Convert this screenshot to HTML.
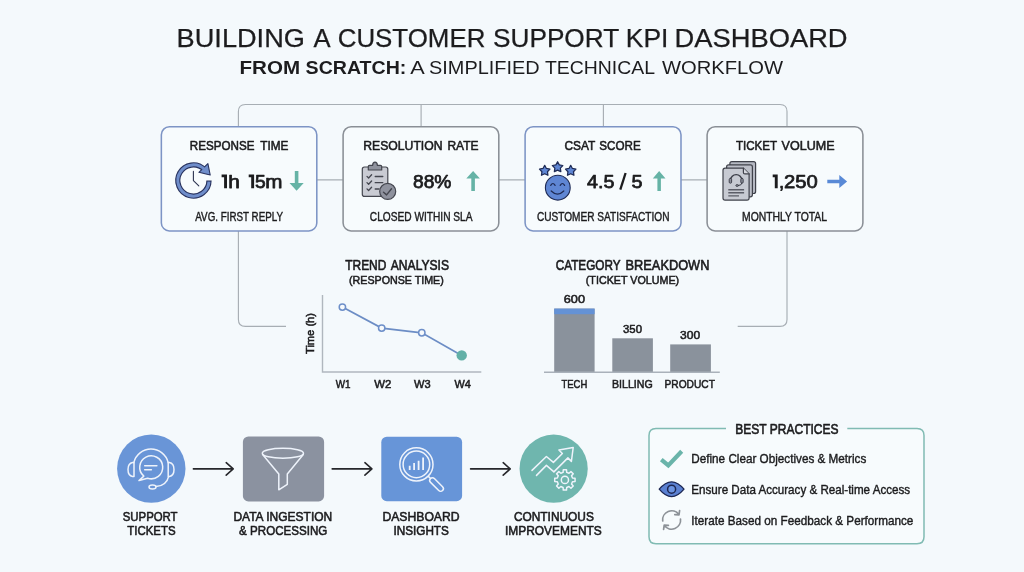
<!DOCTYPE html>
<html>
<head>
<meta charset="utf-8">
<title>Building a Customer Support KPI Dashboard</title>
<style>
html,body{margin:0;padding:0;background:#f4f9fc;}
body{width:1024px;height:572px;overflow:hidden;font-family:"Liberation Sans",sans-serif;}
svg{display:block;will-change:transform;}
text{font-family:"Liberation Sans",sans-serif;fill:#1c1c1e;}
.b{font-weight:bold;}
.sb{stroke:#1c1c1e;stroke-width:0.6px;stroke-linejoin:round;}
.m{stroke:#1c1c1e;stroke-width:0.4px;}
.t{stroke:#1c1c1e;stroke-width:0.25px;}
.conn{fill:none;stroke:#a7aeb4;stroke-width:1.15;}
.wi{fill:none;stroke:#eef3fb;stroke-width:1.5;stroke-linecap:round;stroke-linejoin:round;}
</style>
</head>
<body>
<svg width="1024" height="572" viewBox="0 0 1024 572">
<rect x="0" y="0" width="1024" height="572" fill="#f4f9fc"/>

<!-- TITLE -->
<g font-size="24.9" class="t">
<text x="176.6" y="46.8" textLength="128.3" lengthAdjust="spacingAndGlyphs">BUILDING</text>
<text x="313.5" y="46.8" textLength="17.1" lengthAdjust="spacingAndGlyphs">A</text>
<text x="337.7" y="46.8" textLength="147.7" lengthAdjust="spacingAndGlyphs">CUSTOMER</text>
<text x="493.0" y="46.8" textLength="126.2" lengthAdjust="spacingAndGlyphs">SUPPORT</text>
<text x="625.8" y="46.8" textLength="42.6" lengthAdjust="spacingAndGlyphs">KPI</text>
<text x="674.5" y="46.8" textLength="173.1" lengthAdjust="spacingAndGlyphs">DASHBOARD</text>
</g>
<g font-size="19.2">
<text class="b" x="239.5" y="73.9" textLength="60.6" lengthAdjust="spacingAndGlyphs">FROM</text>
<text class="b" x="305.6" y="73.9" textLength="100.8" lengthAdjust="spacingAndGlyphs">SCRATCH:</text>
<text x="410.2" y="73.9" textLength="14.5" lengthAdjust="spacingAndGlyphs">A</text>
<text x="429.0" y="73.9" textLength="110.6" lengthAdjust="spacingAndGlyphs">SIMPLIFIED</text>
<text x="544.9" y="73.9" textLength="110.1" lengthAdjust="spacingAndGlyphs">TECHNICAL</text>
<text x="662.0" y="73.9" textLength="121.1" lengthAdjust="spacingAndGlyphs">WORKFLOW</text>
</g>

<!-- CONNECTORS -->
<path class="conn" d="M238.4 127 V111.5 Q238.4 104.5 245.4 104.5 H780 Q787 104.5 787 111.5 V127"/>
<path class="conn" d="M421.1 104.5 V127 M603.4 104.5 V127"/>
<path class="conn" d="M317 179.9 H343 M499 179.9 H525 M681 179.9 H707"/>
<path class="conn" d="M238.4 231 V319.4 Q238.4 326.4 245.4 326.4 H286"/>
<path class="conn" d="M787 231 V319.4 Q787 326.4 780 326.4 H737.7"/>

<!-- KPI BOXES -->
<g fill="#f7fbfd" stroke-width="1.55">
<rect x="161.35" y="126.8" width="155.45" height="104.1" rx="8" stroke="#7d94c5"/>
<rect x="343.1" y="126.8" width="155.7" height="104.1" rx="8" stroke="#8a8f96"/>
<rect x="525.1" y="126.8" width="155.9" height="104.1" rx="8" stroke="#7d94c5"/>
<rect x="707.1" y="126.8" width="155.8" height="104.1" rx="8" stroke="#8a8f96"/>
</g>

<!-- KPI headings -->
<g font-size="13.5" class="sb">
<text x="189.8" y="149.6" textLength="64.6" lengthAdjust="spacingAndGlyphs">RESPONSE</text>
<text x="260.2" y="149.6" textLength="28.2" lengthAdjust="spacingAndGlyphs">TIME</text>
<text x="363.2" y="149.6" textLength="79.4" lengthAdjust="spacingAndGlyphs">RESOLUTION</text>
<text x="447.4" y="149.6" textLength="31.2" lengthAdjust="spacingAndGlyphs">RATE</text>
<text x="564.5" y="149.6" textLength="30.9" lengthAdjust="spacingAndGlyphs">CSAT</text>
<text x="599.3" y="149.6" textLength="41.5" lengthAdjust="spacingAndGlyphs">SCORE</text>
<text x="735.9" y="149.6" textLength="41.3" lengthAdjust="spacingAndGlyphs">TICKET</text>
<text x="781.6" y="149.6" textLength="53.0" lengthAdjust="spacingAndGlyphs">VOLUME</text>
</g>

<!-- KPI values -->
<g font-size="18.6" style="stroke:#1c1c1e;stroke-width:0.75px;stroke-linejoin:round">
<path d="M221.6 174.6 h5.4 v13.6 h-2.9 v-11.0 h-2.5 z" fill="#1c1c1e" stroke="none"/>
<text x="228.3" y="188.2" textLength="11.6" lengthAdjust="spacingAndGlyphs">h</text>
<path d="M248.7 174.6 h5.4 v13.6 h-2.9 v-11.0 h-2.5 z" fill="#1c1c1e" stroke="none"/>
<text x="255" y="188.2" textLength="10.7" lengthAdjust="spacingAndGlyphs">5</text>
<text x="265.3" y="188.2" textLength="17.2" lengthAdjust="spacingAndGlyphs">m</text>
<text x="413" y="188.2" textLength="38.4" lengthAdjust="spacingAndGlyphs">88%</text>
<text x="587" y="188.2" textLength="27.4" lengthAdjust="spacingAndGlyphs">4.5</text>
<path d="M620.3 189.6 L625.6 173" stroke-width="2.3" stroke-linecap="butt" fill="none"/>
<text x="631.5" y="188.2" textLength="11" lengthAdjust="spacingAndGlyphs">5</text>
<path d="M772.7 174.6 h5.0 v13.6 h-2.9 v-11.0 h-2.1 z" fill="#1c1c1e" stroke="none"/>
<text x="778.9" y="188.2">,</text>
<text x="784.1" y="188.2" textLength="33.8" lengthAdjust="spacingAndGlyphs">250</text>
</g>

<!-- KPI sublabels -->
<g font-size="11.9" class="m">
<text x="195.3" y="220.5" textLength="87.7" lengthAdjust="spacingAndGlyphs">AVG. FIRST REPLY</text>
<text x="369.8" y="220.5" textLength="102.7" lengthAdjust="spacingAndGlyphs">CLOSED WITHIN SLA</text>
<text x="536.9" y="220.5" textLength="132.6" lengthAdjust="spacingAndGlyphs">CUSTOMER SATISFACTION</text>
<text x="742.0" y="220.5" textLength="85.0" lengthAdjust="spacingAndGlyphs">MONTHLY TOTAL</text>
</g>

<!-- trend arrows -->
<g fill="#66b3a6">
<path d="M294.8 170.9 h3.6 v12 h5.3 l-7.1 7.8 l-7.1 -7.8 h5.3 z"/>
<path d="M471.3 191 h3.6 v-12.4 h5 l-6.8 -7.7 l-6.8 7.7 h5 z"/>
<path d="M657.4 191 h3.5 v-12.4 h4.6 l-6.35 -7.7 l-6.35 7.7 h4.6 z"/>
</g>
<path fill="#5989d6" d="M827.3 179.7 h12 v-4.7 l7.8 6.5 l-7.8 6.5 v-4.7 h-12 z"/>

<!-- clock icon -->
<g>
<path d="M209 180.6 A15.6 15.6 0 1 1 204.2 169.2" fill="none" stroke="#29335f" stroke-width="5.3"/>
<path d="M207.9 163.6 L210.2 175 L198.9 172.3 Z" fill="#6f8dca" stroke="#29335f" stroke-width="1.1" stroke-linejoin="round"/>
<path d="M209 181.6 A15.6 15.6 0 1 1 205 170" fill="none" stroke="#6f8dca" stroke-width="3.0"/>
<path d="M193.4 171.4 V180.6 L198.8 185.8" fill="none" stroke="#2c3350" stroke-width="1.1" stroke-linecap="round" stroke-linejoin="round"/>
</g>
<!-- clipboard icon -->
<g stroke="#44464f" stroke-width="1.2" stroke-linejoin="round" stroke-linecap="round">
<rect x="362.3" y="167" width="25.5" height="29.4" rx="2.2" fill="#c9cbd3"/>
<path d="M368.3 170 V166.6 Q368.3 165.4 369.5 165.4 H372.6 Q372.8 162.2 375 162.2 Q377.2 162.2 377.4 165.4 H380.5 Q381.7 165.4 381.7 166.6 V170 Z" fill="#8f929d"/>
<g fill="none" stroke-width="1.3">
<path d="M367 176.4 L368.6 178 L371.6 174.8 M375.2 176.5 H382.8"/>
<path d="M367 182.6 L368.6 184.2 L371.6 181 M375.2 182.7 H382.8"/>
<path d="M367 188.9 L368.6 190.5 L371.6 187.3 M375.2 189 H379"/>
</g>
<circle cx="387.7" cy="191.4" r="8" fill="#8f929e"/>
<path d="M383.5 192.2 L386.6 194.9 L391.5 188.7" fill="none" stroke-width="1.4"/>
</g>
<!-- csat icon -->
<g fill="#5f86d4" stroke="#1f2b55" stroke-width="1.1" stroke-linejoin="round" stroke-linecap="round">
<circle cx="557.8" cy="187.7" r="12.4"/>
<polygon points="544.70,165.30 546.40,168.45 549.93,169.10 547.46,171.70 547.93,175.25 544.70,173.70 541.47,175.25 541.94,171.70 539.47,169.10 543.00,168.45" stroke-width="1.25"/>
<polygon points="557.60,161.70 559.30,164.85 562.83,165.50 560.36,168.10 560.83,171.65 557.60,170.10 554.37,171.65 554.84,168.10 552.37,165.50 555.90,164.85" stroke-width="1.25"/>
<polygon points="570.70,165.30 572.40,168.45 575.93,169.10 573.46,171.70 573.93,175.25 570.70,173.70 567.47,175.25 567.94,171.70 565.47,169.10 569.00,168.45" stroke-width="1.25"/>
<path d="M550.7 185.4 Q552.9 181.6 555.1 185.4 M560.2 185.4 Q562.4 181.6 564.6 185.4 M551.2 191 Q557.5 197.2 563.8 191" fill="none" stroke-width="1.2"/>
</g>
<!-- docs icon -->
<g stroke="#3f414a" stroke-width="1.2" stroke-linejoin="round" stroke-linecap="round">
<rect x="729.9" y="161.6" width="25.7" height="31.9" rx="2" fill="#b5b8c2"/>
<rect x="726.6" y="164.9" width="25.8" height="31.9" rx="2" fill="#bcbfc8"/>
<path d="M725.1 168.2 H743.4 L749.1 173.9 V198 Q749.1 200.1 747 200.1 H725.1 Q723 200.1 723 198 V170.3 Q723 168.2 725.1 168.2 Z" fill="#c7cad2"/>
<path d="M743.4 168.2 V172.4 Q743.4 173.9 744.9 173.9 H749.1" fill="#d8dae0"/>
<g fill="none" stroke="#3a3c46">
<path d="M730.6 181.2 V180.2 A5.6 5.6 0 0 1 741.8 180.2 V181.2" stroke-width="1.4"/>
<rect x="729.2" y="178.4" width="2.4" height="4.8" rx="1.1" fill="#8d909b" stroke-width="0.9"/>
<rect x="740.8" y="178.4" width="2.4" height="4.8" rx="1.1" fill="#8d909b" stroke-width="0.9"/>
<path d="M741.9 183.2 Q741.6 185.6 738.4 185.5" stroke-width="1"/>
<ellipse cx="737.2" cy="185.5" rx="1.4" ry="0.9" fill="#8d909b" stroke-width="0.9"/>
</g>
<path d="M728.3 189.7 H744.1 M728.3 192.8 H744.1 M728.3 195.9 H739" fill="none" stroke="#5b5d67" stroke-width="1.4" stroke-linecap="butt"/>
</g>


<!-- TREND CHART -->
<g font-size="13.8" class="sb">
<text x="345.2" y="270" textLength="41.2" lengthAdjust="spacingAndGlyphs">TREND</text>
<text x="390.8" y="270" textLength="58.2" lengthAdjust="spacingAndGlyphs">ANALYSIS</text>
<text x="555.7" y="270" textLength="64.9" lengthAdjust="spacingAndGlyphs">CATEGORY</text>
<text x="625.6" y="270" textLength="83.8" lengthAdjust="spacingAndGlyphs">BREAKDOWN</text>
</g>
<g font-size="11.8" class="m" style="stroke-width:0.55px">
<text x="349.0" y="283.5" textLength="94.8" lengthAdjust="spacingAndGlyphs">(RESPONSE TIME)</text>
<text x="585.8" y="283.5" textLength="93.3" lengthAdjust="spacingAndGlyphs">(TICKET VOLUME)</text>
<text x="335.7" y="388.2" textLength="14.8" lengthAdjust="spacingAndGlyphs">W1</text>
<text x="374.2" y="388.2" textLength="17.1" lengthAdjust="spacingAndGlyphs">W2</text>
<text x="414.0" y="388.2" textLength="16.6" lengthAdjust="spacingAndGlyphs">W3</text>
<text x="454.4" y="388.2" textLength="16.3" lengthAdjust="spacingAndGlyphs">W4</text>
<text x="561.5" y="388.2" textLength="25.8" lengthAdjust="spacingAndGlyphs">TECH</text>
<text x="612.0" y="388.2" textLength="40.7" lengthAdjust="spacingAndGlyphs">BILLING</text>
<text x="664.5" y="388.2" textLength="50.4" lengthAdjust="spacingAndGlyphs">PRODUCT</text>
<text x="563.8" y="303.4" textLength="21.2" lengthAdjust="spacingAndGlyphs">600</text>
<text x="623.0" y="332.8" textLength="19.0" lengthAdjust="spacingAndGlyphs">350</text>
<text x="680.1" y="338.8" textLength="20.1" lengthAdjust="spacingAndGlyphs">300</text>
<text transform="translate(314.3 354) rotate(-90)" x="0" y="0" textLength="41" lengthAdjust="spacingAndGlyphs">Time (h)</text>
</g>
<path d="M322.5 295 V372 H481.3" fill="none" stroke="#b0b7be" stroke-width="1.4"/>
<path d="M342.4 307.1 L381.7 328.1 L421.8 332.8 L461.7 355.4" fill="none" stroke="#6c8dc5" stroke-width="1.7"/>
<g fill="#f7fafc" stroke="#6d8fc9" stroke-width="1.5">
<circle cx="342.4" cy="307.1" r="3.2"/>
<circle cx="381.7" cy="328.1" r="3.2"/>
<circle cx="421.8" cy="332.8" r="3.2"/>
</g>
<circle cx="461.7" cy="355.4" r="5.2" fill="#62b0a7"/>

<!-- BAR CHART -->
<rect x="554.2" y="308.6" width="40.4" height="64" fill="#8a929c"/>
<rect x="554.2" y="308.6" width="40.4" height="5.6" fill="#6492d6"/>
<rect x="612.3" y="338.3" width="40.6" height="34.3" fill="#8a929c"/>
<rect x="670.2" y="344.4" width="40.7" height="28.2" fill="#8a929c"/>
<path d="M544 372.2 H719.8" stroke="#a9b1ba" stroke-width="1.5" fill="none"/>

<!-- WORKFLOW -->
<circle cx="151.3" cy="468.65" r="34.2" fill="#6995d7"/>
<rect x="242.9" y="436.5" width="81.2" height="64.9" rx="5.5" fill="#8b92a0"/>
<rect x="381.3" y="436.7" width="80.8" height="64.5" rx="5.5" fill="#6795d8"/>
<circle cx="553.65" cy="468.65" r="34.1" fill="#6fb6ae"/>
<g fill="none" stroke="#26272b" stroke-width="1.6" stroke-linecap="round" stroke-linejoin="round">
<path d="M193.4 468.9 H233 M226.2 462.7 L233.2 468.9 L226.2 475.1"/>
<path d="M332.2 468.9 H371.7 M364.9 462.7 L371.9 468.9 L364.9 475.1"/>
<path d="M470.6 468.9 H510 M503.2 462.7 L510.2 468.9 L503.2 475.1"/>
</g>
<g font-size="13.3" class="sb">
<text x="122.7" y="520.8" textLength="54.9" lengthAdjust="spacingAndGlyphs">SUPPORT</text>
<text x="127.2" y="535" textLength="48.5" lengthAdjust="spacingAndGlyphs">TICKETS</text>
<text x="233.4" y="520.8" textLength="98.9" lengthAdjust="spacingAndGlyphs">DATA INGESTION</text>
<text x="239.1" y="535" textLength="88.3" lengthAdjust="spacingAndGlyphs">&amp; PROCESSING</text>
<text x="382.4" y="520.8" textLength="77.2" lengthAdjust="spacingAndGlyphs">DASHBOARD</text>
<text x="393.4" y="535" textLength="55.5" lengthAdjust="spacingAndGlyphs">INSIGHTS</text>
<text x="513.9" y="520.8" textLength="80.0" lengthAdjust="spacingAndGlyphs">CONTINUOUS</text>
<text x="505.0" y="535" textLength="96.8" lengthAdjust="spacingAndGlyphs">IMPROVEMENTS</text>
</g>


<!-- support headset icon -->
<g class="wi">
<path d="M133.8 462.6 A17.7 17.7 0 0 1 168.2 462.6"/>
<path d="M134 462.4 H132.6 Q128 463.2 128 469.4 Q128 475.6 132.6 476.4 H134 Z"/>
<path d="M168.2 462.4 H169.4 Q174 463.2 174 469.4 Q174 475.6 169.4 476.4 H168.2 Z"/>
<path d="M168.6 476.6 Q166.5 485.6 156 486.6"/>
<ellipse cx="152.5" cy="486.9" rx="3.5" ry="2"/>
<path d="M143.8 476.1 A11.5 11.5 0 1 1 147.65 478.24 L139 480.5 Z"/>
<path d="M144.7 465.7 H156.9 M144.7 469.7 H151.4" stroke-width="1.5"/>
</g>
<!-- funnel icon -->
<g class="wi" stroke="#eef1f4">
<ellipse cx="282.9" cy="453.2" rx="20.6" ry="5"/>
<path d="M262.6 454.6 L278.8 474 V489.8 L287.3 484.4 V474 L303.3 454.6"/>
</g>
<!-- magnifier icon -->
<g class="wi">
<circle cx="416.4" cy="464.4" r="16.6"/>
<circle cx="416.4" cy="464.4" r="13.3"/>
<path d="M409.7 469.9 V465.7 M414.1 469.9 V463.1 M418.6 469.9 V460.7 M423.1 469.9 V457.4" stroke-width="1.8" stroke-linecap="butt"/>
<g transform="translate(416.4 464.4) rotate(45)">
<path d="M17.3 0 H20"/>
<rect x="20" y="-2.7" width="17" height="5.4" rx="2.7"/>
</g>
</g>
<!-- growth icon -->
<g class="wi" stroke="#eef6f5">
<path d="M532 470.4 L546.4 456.5 L553.4 462.4 L562.4 453.5 L558.9 450 L573.2 447.5 L571.4 461.4 L567.9 457.9 L553.9 471.9 L546.4 465.4 L536.5 475.4"/>
<path d="M563.08 472.32 L563.29 469.73 L566.51 469.73 L566.72 472.32 L568.98 473.25 L570.95 471.57 L573.23 473.85 L571.55 475.82 L572.48 478.08 L575.07 478.29 L575.07 481.51 L572.48 481.72 L571.55 483.98 L573.23 485.95 L570.95 488.23 L568.98 486.55 L566.72 487.48 L566.51 490.07 L563.29 490.07 L563.08 487.48 L560.82 486.55 L558.85 488.23 L556.57 485.95 L558.25 483.98 L557.32 481.72 L554.73 481.51 L554.73 478.29 L557.32 478.08 L558.25 475.82 L556.57 473.85 L558.85 471.57 L560.82 473.25 Z"/>
<circle cx="564.9" cy="479.9" r="3.6"/>
</g>
<!-- best practice box -->
<path d="M726 428.6 H656 Q649 428.6 649 435.6 V536.8 Q649 543.8 656 543.8 H917 Q924 543.8 924 536.8 V435.6 Q924 428.6 917 428.6 H847.3" fill="#f7fbfd" stroke="#80bbb3" stroke-width="1.5"/>
<!-- best practice icons -->
<path d="M661.3 459.6 L668.3 465.4 L681.7 451.3" fill="none" stroke="#6ab4aa" stroke-width="4.2"/>
<g stroke="#1d2752" stroke-width="1.3" stroke-linejoin="round">
<path d="M659.2 489.2 Q671.6 474.4 684 489.2 Q671.6 504 659.2 489.2 Z" fill="#5b80d1"/>
<circle cx="671.6" cy="489.2" r="4" fill="#6c94e2" stroke-width="1.5"/>
</g>
<g fill="none" stroke="#8d9298" stroke-width="1.7" stroke-linecap="round" stroke-linejoin="round">
<path d="M662.7 521 A9 9 0 0 1 678.8 514.4 M679.6 510.6 L679 514.8 L674.8 514.6"/>
<path d="M680.5 519 A9 9 0 0 1 664.4 525.6 M663.6 529.4 L664.2 525.2 L668.4 525.4"/>
</g>

<!-- BEST PRACTICES -->
<text class="sb" font-size="13.8" x="735.2" y="433.8" textLength="103.4" lengthAdjust="spacingAndGlyphs">BEST PRACTICES</text>
<g font-size="12.4" class="m">
<text x="691.3" y="463.4" textLength="175.0" lengthAdjust="spacingAndGlyphs">Define Clear Objectives &amp; Metrics</text>
<text x="691.3" y="493.8" textLength="218.8" lengthAdjust="spacingAndGlyphs">Ensure Data Accuracy &amp; Real-time Access</text>
<text x="691.3" y="524.8" textLength="222.1" lengthAdjust="spacingAndGlyphs">Iterate Based on Feedback &amp; Performance</text>
</g>
</svg>
</body>
</html>
